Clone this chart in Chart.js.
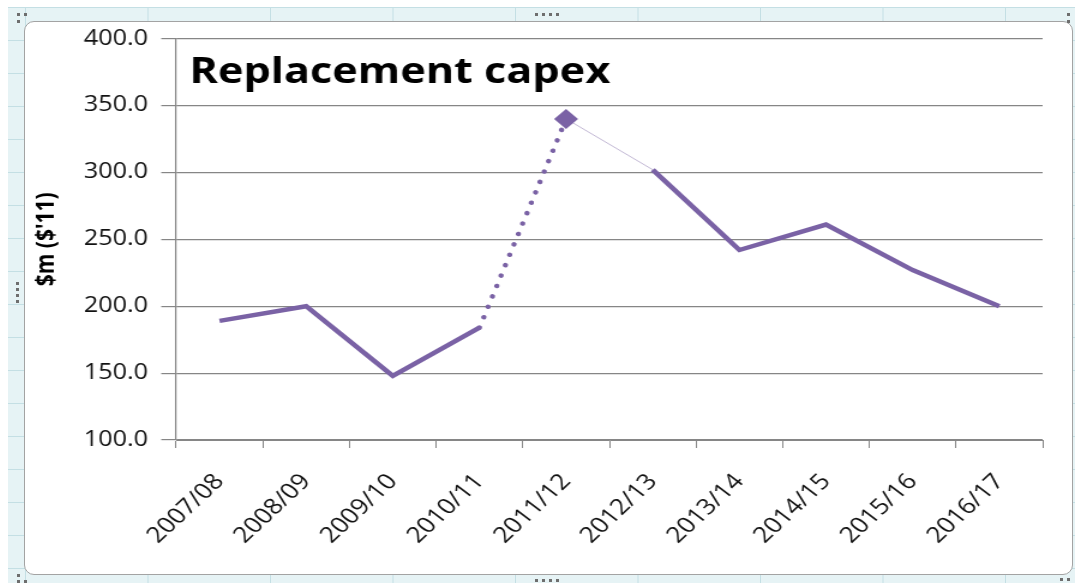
<!DOCTYPE html>
<html>
<head>
<meta charset="utf-8">
<script src="https://cdn.jsdelivr.net/npm/chart.js@4/dist/chart.umd.min.js"></script>
<style>
  html, body { margin: 0; padding: 0; background: #fff; }
  body { width: 1075px; height: 583px; position: relative; overflow: hidden; }

  /* worksheet cells behind the chart object */
  .sheet {
    position: absolute; left: 8px; top: 7px; right: 0; bottom: 0;
    background-color: #E6F3F5;
    background-image:
      linear-gradient(to right, #C4DFE4 1px, transparent 1px),
      linear-gradient(to bottom, #C4DFE4 1px, transparent 1px);
    background-size: 122.5px 33px;
    background-position: 17px 0;
  }

  .frame {
    position: absolute; left: 24px; top: 21px; width: 1047px; height: 552px;
    background: #fff; border: 1px solid #A3A3A3; border-radius: 10px;
    overflow: hidden;
  }

  /* Excel draws the plot with a slightly wide aspect, so the canvas is stretched sideways */
  #chart {
    position: absolute; left: 0; top: -7px;
    transform: scaleX(1.2); transform-origin: 0 0;
  }

  .dot { position: absolute; width: 3px; height: 3px; background: #6E6E6E; }
</style>
</head>
<body>
<div class="sheet"></div>
<div class="frame">
  <canvas id="chart" width="872" height="559"></canvas>
</div>

<script>
  const years = ["2007/08", "2008/09", "2009/10", "2010/11", "2011/12",
                 "2012/13", "2013/14", "2014/15", "2015/16", "2016/17"];
  const capex = [189, 200, 148, 184, 340, 302, 242, 261, 227, 200];

  const yMin = 100;
  const yMax = 400;
  const yStep = 50;

  // 2011/12 is the highlighted year: dotted line in, thin line out, diamond marker
  const peakIndex = years.indexOf("2011/12");

  const purple = "#7A62A5";
  const gridGrey = "#868686";
  const font = "'Open Sans', Lato, sans-serif";

  // selection handles around the chart object
  const handles = [
    [17, 13], [24, 13], [17, 20],
    [1067, 13], [1067, 20],
    [17, 574], [17, 580], [24, 580],
    [1067, 578], [1060, 578],
    [535, 13], [542, 13], [549, 13], [556, 13],
    [535, 579], [542, 579], [549, 579], [556, 579],
    [16, 282], [16, 288], [16, 294], [16, 300],
  ];
  handles.forEach(([x, y]) => {
    const d = document.createElement("div");
    d.className = "dot";
    d.style.left = x + "px";
    d.style.top = y + "px";
    document.body.appendChild(d);
  });

  // chart title sits inside the plot area, top left
  const insideTitle = {
    id: "insideTitle",
    afterDraw(chart) {
      const { ctx, chartArea } = chart;
      ctx.save();
      ctx.font = "bold 36px " + font;
      ctx.fillStyle = "#000";
      ctx.textBaseline = "alphabetic";
      ctx.textAlign = "left";
      ctx.fillText("Replacement capex", chartArea.left + 11, 68);
      ctx.restore();
    },
  };

  new Chart(document.getElementById("chart"), {
    type: "line",
    data: {
      labels: years,
      datasets: [{
        label: "Replacement capex",
        data: capex,
        borderColor: purple,
        backgroundColor: purple,
        borderWidth: 4.5,
        tension: 0,
        pointStyle: "rectRot",
        pointRadius: (ctx) => (ctx.dataIndex === peakIndex ? 10 : 0),
        pointBorderWidth: 0,
        pointBackgroundColor: purple,
        segment: {
          borderDash: (ctx) => (ctx.p1DataIndex === peakIndex ? [0.01, 11] : undefined),
          borderCapStyle: (ctx) => (ctx.p1DataIndex === peakIndex ? "round" : undefined),
          borderWidth: (ctx) => (ctx.p0DataIndex === peakIndex ? 1 : undefined),
          borderColor: (ctx) => (ctx.p0DataIndex === peakIndex ? "#C2B8D4" : undefined),
        },
      }],
    },
    options: {
      responsive: false,
      animation: false,
      devicePixelRatio: 1,
      layout: { padding: { left: 0, right: 24, top: 8, bottom: 0 } },
      plugins: {
        legend: { display: false },
        tooltip: { enabled: false },
      },
      scales: {
        x: {
          offset: true,
          afterFit: (scale) => { scale.height = 134; },
          grid: {
            offset: true,
            drawOnChartArea: false,
            drawTicks: true,
            tickLength: 8,
            color: gridGrey,
          },
          border: { display: true, color: gridGrey, width: 1 },
          ticks: {
            autoSkip: false,
            minRotation: 48,
            maxRotation: 48,
            padding: 21,
            color: "#111",
            font: { family: font, size: 22 },
          },
        },
        y: {
          min: yMin,
          max: yMax,
          afterFit: (scale) => { scale.width = 126; },
          grid: { color: gridGrey, lineWidth: 1.2, tickLength: 12.5 },
          border: { display: true, color: gridGrey, width: 1.2 },
          ticks: {
            stepSize: yStep,
            padding: 11,
            color: "#111",
            font: { family: font, size: 21 },
            callback: (value) => Number(value).toFixed(1),
          },
          title: {
            display: true,
            text: "$m ($'11)",
            color: "#000",
            padding: { top: 5, bottom: 0 },
            font: { family: font, size: 21, weight: "bold" },
          },
        },
      },
    },
    plugins: [insideTitle],
  });
</script>
</body>
</html>
